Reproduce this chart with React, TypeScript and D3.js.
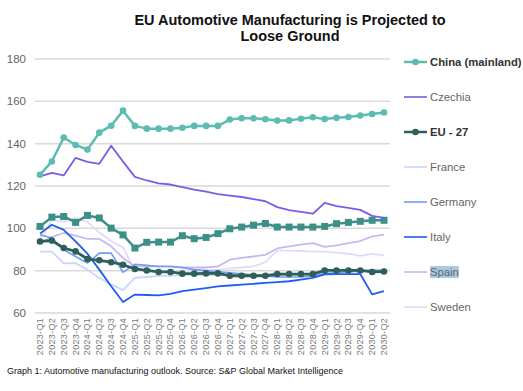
import { useEffect, useRef } from 'react';
import * as d3 from 'd3';

const QUARTERS = [
  '2023-Q1', '2023-Q2', '2023-Q3', '2023-Q4', '2024-Q1', '2024-Q2', '2024-Q3', '2024-Q4',
  '2025-Q1', '2025-Q2', '2025-Q3', '2025-Q4', '2026-Q1', '2026-Q2', '2026-Q3', '2026-Q4',
  '2027-Q1', '2027-Q2', '2027-Q3', '2027-Q4', '2028-Q1', '2028-Q2', '2028-Q3', '2028-Q4',
  '2029-Q1', '2029-Q2', '2029-Q3', '2029-Q4', '2030-Q1', '2030-Q2',
];

const Y_TICKS = [60, 80, 100, 120, 140, 160, 180];

const CHINA = [125.3, 131.6, 142.9, 139.4, 137.2, 145.2, 148.5, 155.6, 148.4, 147.1, 147.1, 147.1, 147.5, 148.4, 148.4, 148.4, 151.4, 152, 152, 151.5, 150.9, 151, 151.8, 152.5, 151.6, 152.2, 152.6, 153.3, 154, 154.7];
const CZECHIA = [124.5, 126.2, 125, 133.3, 131.4, 130.5, 139, 131.5, 124.3, 122.6, 121.2, 120.7, 119.5, 118.3, 117.3, 116.2, 115.5, 114.8, 113.8, 112.8, 110, 108.6, 107.8, 106.9, 112, 110.5, 109.7, 108.7, 105.9, 104.9];
const EU27 = [93.8, 94.2, 90.7, 89.1, 85.5, 84.9, 84, 82.8, 80.8, 80.1, 79.4, 79.4, 78.6, 78.6, 78.7, 78.7, 77.6, 77.6, 77.6, 77.6, 78.4, 78.4, 78.4, 78.4, 80.1, 80.1, 80.1, 80.1, 79.4, 79.6];
const EU_SQUARES = [100.9, 105.3, 105.6, 102.8, 106.1, 104.9, 100.1, 96.9, 90.7, 93.4, 93.5, 93.5, 96.5, 95.1, 95.7, 97.5, 99.8, 100.6, 101.5, 102.3, 100.6, 100.6, 100.6, 100.6, 100.9, 102.2, 102.8, 103.3, 103.8, 103.8];
const FRANCE = [89, 89, 83.5, 83.5, 80.5, 76.5, 73.5, 70.8, 76.6, 77, 77.5, 77.5, 78, 78, 78, 78, 78, 78, 78, 78, 78, 78, 78, 78, 79, 79, 79.5, 79.5, 80.5, 80.5];
const GERMANY = [97, 95.4, 89.9, 86.7, 83.6, 88.3, 88.3, 79.2, 83, 82.5, 82, 82, 81.5, 80.5, 80, 79.5, 79, 78.5, 78, 77.5, 77, 77, 77, 77.5, 78.5, 79, 79.5, 80, 80, 80];
const ITALY = [97.5, 101.7, 99.3, 93.8, 88, 80.5, 72.6, 65.2, 68.7, 68.5, 68.3, 69, 70.3, 71, 71.8, 72.6, 73, 73.4, 73.8, 74.2, 74.6, 75, 75.8, 76.6, 78.3, 78.4, 78.4, 78.4, 68.8, 70.3];
const SPAIN = [93, 96, 97.8, 96.5, 95, 95, 91.5, 86, 82, 82, 82, 82, 81.5, 81.5, 81.5, 82, 85.2, 86, 86.7, 87.5, 90.5, 91.5, 92.3, 93, 91.2, 92, 93, 94, 96.2, 97];
const SWEDEN = [95, 104, 103, 105, 103, 98, 94, 91, 80, 80, 80, 80, 80, 80, 80, 80.5, 81, 81.5, 82, 84, 89.5, 89.5, 89.3, 89, 89, 88.5, 88, 87, 87.9, 87.2];

type Series = {
  name: string | null;
  values: number[];
  color: string;
  width: number;
  marker: 'circle' | 'square' | null;
  bold?: boolean;
  highlight?: boolean;
};

// drawing order: light lines at the back, marked series on top
const SERIES: Series[] = [
  { name: 'Sweden', values: SWEDEN, color: '#e0dbfa', width: 1.8, marker: null },
  { name: 'France', values: FRANCE, color: '#c9d6fb', width: 1.8, marker: null },
  { name: 'Spain', values: SPAIN, color: '#c5b8f3', width: 1.8, marker: null, highlight: true },
  { name: 'Germany', values: GERMANY, color: '#6f9cf2', width: 1.6, marker: null },
  { name: 'Italy', values: ITALY, color: '#1f5cf5', width: 1.8, marker: null },
  { name: null, values: EU_SQUARES, color: '#3d9087', width: 2.5, marker: 'square' },
  { name: 'EU - 27', values: EU27, color: '#2e5f58', width: 2.8, marker: 'circle', bold: true },
  { name: 'Czechia', values: CZECHIA, color: '#7b5ce8', width: 1.8, marker: null },
  { name: 'China (mainland)', values: CHINA, color: '#5cbcb1', width: 2.5, marker: 'circle', bold: true },
];

const LEGEND_ORDER = ['China (mainland)', 'Czechia', 'EU - 27', 'France', 'Germany', 'Italy', 'Spain', 'Sweden'];

const W = 523;
const H = 391;
const FONT = 'Liberation Sans, Arial, sans-serif';

export default function App() {
  const svgRef = useRef<SVGSVGElement>(null);

  useEffect(() => {
    const svg = d3.select(svgRef.current);
    svg.selectAll('*').remove();

    const x = d3.scalePoint<string>().domain(QUARTERS).range([40, 384]);
    const y = d3.scaleLinear().domain([60, 180]).range([313, 59]);

    // title
    const title = svg.append('text')
      .attr('text-anchor', 'middle')
      .style('font-family', FONT)
      .style('font-size', '14.5px')
      .style('font-weight', 'bold')
      .style('fill', '#111');
    title.append('tspan').attr('x', 290).attr('y', 25).text('EU Automotive Manufacturing is Projected to');
    title.append('tspan').attr('x', 290).attr('y', 41).text('Loose Ground');

    // gridlines + y labels
    const yAxis = svg.append('g');
    yAxis.selectAll('line')
      .data(Y_TICKS)
      .enter()
      .append('line')
      .attr('x1', 35)
      .attr('x2', 390)
      .attr('y1', d => y(d))
      .attr('y2', d => y(d))
      .attr('stroke', '#d9d9d9')
      .attr('stroke-width', 1.5);
    yAxis.selectAll('text')
      .data(Y_TICKS)
      .enter()
      .append('text')
      .attr('x', 26)
      .attr('y', d => y(d) + 4)
      .attr('text-anchor', 'end')
      .style('font-family', FONT)
      .style('font-size', '11.5px')
      .style('fill', '#6e6259')
      .text(d => d);

    // x labels, rotated
    svg.append('g')
      .selectAll('text')
      .data(QUARTERS)
      .enter()
      .append('text')
      .attr('transform', d => `translate(${(x(d) as number) + 3},318) rotate(-90)`)
      .attr('text-anchor', 'end')
      .style('font-family', FONT)
      .style('font-size', '9px')
      .style('letter-spacing', '0.3px')
      .style('fill', '#777')
      .text(d => d);

    const line = d3.line<number>()
      .x((_, i) => x(QUARTERS[i]) as number)
      .y(d => y(d));

    SERIES.forEach(s => {
      const g = svg.append('g');
      g.append('path')
        .datum(s.values)
        .attr('fill', 'none')
        .attr('stroke', s.color)
        .attr('stroke-width', s.width)
        .attr('stroke-linejoin', 'round')
        .attr('d', line);
      if (s.marker === 'circle') {
        g.selectAll('circle')
          .data(s.values)
          .enter()
          .append('circle')
          .attr('cx', (_, i) => x(QUARTERS[i]) as number)
          .attr('cy', d => y(d))
          .attr('r', 3.3)
          .attr('fill', s.color);
      } else if (s.marker === 'square') {
        g.selectAll('rect')
          .data(s.values)
          .enter()
          .append('rect')
          .attr('x', (_, i) => (x(QUARTERS[i]) as number) - 3.5)
          .attr('y', d => y(d) - 3.5)
          .attr('width', 7)
          .attr('height', 7)
          .attr('fill', s.color);
      }
    });

    // legend
    const legend = svg.append('g').attr('transform', 'translate(404,62)');
    LEGEND_ORDER.forEach((name, i) => {
      const s = SERIES.find(d => d.name === name) as Series;
      const row = legend.append('g').attr('transform', `translate(0,${i * 35})`);
      row.append('line')
        .attr('x1', 0)
        .attr('x2', 23)
        .attr('stroke', s.color)
        .attr('stroke-width', s.marker ? 2.5 : 1.6);
      if (s.marker === 'circle') {
        row.append('circle').attr('cx', 11.5).attr('r', 3.3).attr('fill', s.color);
      }
      const label = row.append('text')
        .attr('x', 26)
        .attr('y', 4)
        .style('font-family', FONT)
        .style('font-size', '11.3px')
        .style('font-weight', s.bold ? 'bold' : 'normal')
        .style('fill', s.bold ? '#333' : '#666')
        .text(name);
      if (s.highlight) {
        const bb = (label.node() as SVGTextElement).getBBox();
        row.insert('rect', 'text')
          .attr('x', bb.x)
          .attr('y', bb.y)
          .attr('width', bb.width)
          .attr('height', bb.height)
          .attr('fill', '#a9c9e3');
      }
    });

    // caption
    svg.append('text')
      .attr('x', 7)
      .attr('y', 374)
      .style('font-family', FONT)
      .style('font-size', '9px')
      .style('fill', '#111')
      .text('Graph 1: Automotive manufacturing outlook. Source:  S&P Global Market Intelligence');
  }, []);

  return (
    <svg
      ref={svgRef}
      width={W}
      height={H}
      style={{ position: 'absolute', left: 0, top: 0, background: '#fff' }}
    />
  );
}
